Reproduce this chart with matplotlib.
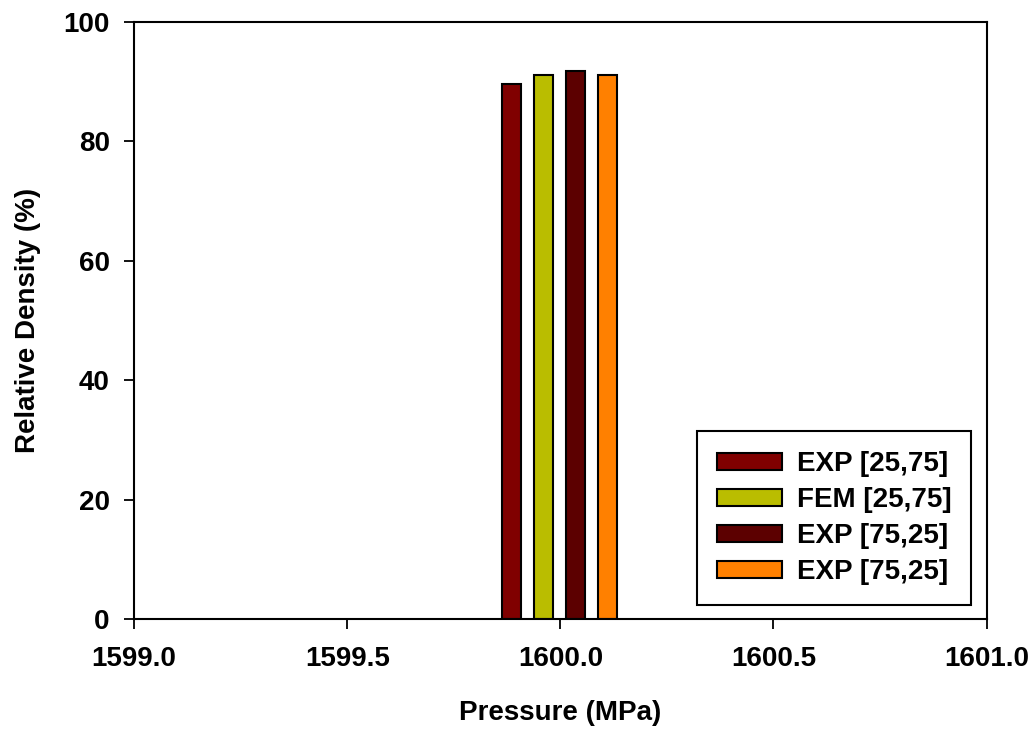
import numpy as np
import matplotlib
matplotlib.use("Agg")
import matplotlib.pyplot as plt

plt.rcParams['font.family'] = ['Liberation Sans', 'DejaVu Sans']
plt.rcParams['font.weight'] = 'bold'

# data
labels = ["EXP [25,75]", "FEM [25,75]", "EXP [75,25]", "EXP [75,25]"]
pressure = [1600.0, 1600.0, 1600.0, 1600.0]
density = [89.6, 91.1, 91.7, 91.1]
colors = ["#800000", "#BABD00", "#5C0000", "#FF8000"]
offsets = [-1.5, -0.5, 0.5, 1.5]

fig = plt.figure(figsize=(10.32, 7.29), dpi=100)
ax = fig.add_axes([0.130, 0.151, 0.826, 0.819])

step = 0.075
w = 0.045
for p, d, c, o, lab in zip(pressure, density, colors, offsets, labels):
    ax.bar(p + o * step - 0.002, d, width=w, color=c, edgecolor="black",
           linewidth=1.5, label=lab)

ax.set_xlim(1599.0, 1601.0)
ax.set_ylim(0, 100)
ax.set_xticks(np.arange(1599.0, 1601.01, 0.5))
ax.set_xticklabels(["%.1f" % v for v in np.arange(1599.0, 1601.01, 0.5)])
ax.set_yticks(np.arange(0, 101, 20))

ax.tick_params(axis="x", direction="out", length=7.5, width=1.3, labelsize=20, pad=12)
ax.tick_params(axis="y", direction="out", length=7.5, width=1.3, labelsize=20, pad=10)
for s in ax.spines.values():
    s.set_linewidth(1.5)
for t in ax.get_xticklabels() + ax.get_yticklabels():
    t.set_fontweight("bold")

ax.set_xlabel("Pressure (MPa)", fontsize=20, fontweight="bold", labelpad=20)
ax.set_ylabel("Relative Density (%)", fontsize=20, fontweight="bold", labelpad=16)

leg = ax.legend(loc="lower right", bbox_to_anchor=(0.982, 0.023),
                borderaxespad=0, fontsize=20, frameon=True, fancybox=False,
                handlelength=2.34, handleheight=0.6, handletextpad=0.54,
                labelspacing=0.36, borderpad=0.72)
leg.get_frame().set_edgecolor("black")
leg.get_frame().set_linewidth(1.5)
leg.get_frame().set_alpha(1)
for t in leg.get_texts():
    t.set_fontweight("bold")

fig.savefig("out.png", dpi=100)
